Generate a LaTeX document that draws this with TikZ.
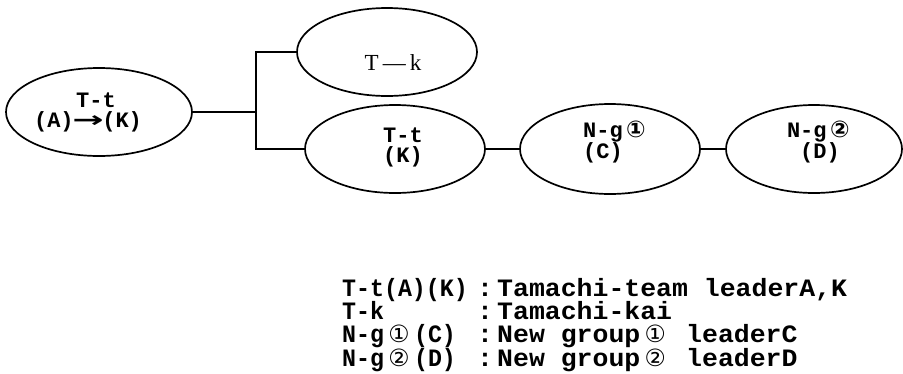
\documentclass[tikz,border=0pt]{standalone}
\usepackage{fontspec}
\usetikzlibrary{shapes.geometric}
\setmainfont{Liberation Serif}
\newfontfamily\monofont{Liberation Mono}[BoldFont={Liberation Mono Bold}]
\newfontfamily\narrowmono{Liberation Mono Bold}[FakeStretch=0.93]
\newfontfamily\widemono{Liberation Mono Bold}[FakeStretch=1.06]
\newfontfamily\symfont{DejaVu Sans}
% circled digits and the arrow take two cells of the monospaced grid
\newcommand\cnum[1]{\makebox[1.2em][c]{\scalebox{1.05}{\symfont #1}}}
\newcommand\lcnum[1]{\makebox[1.2em][c]{\smash{\scalebox{0.95}{\symfont #1}}}}
\newcommand\arr{\makebox[1.3em][c]{\scalebox{1.7}[1]{\symfont →}}}
\tikzset{
  bubble/.style={draw, ellipse, line width=1.7pt, inner sep=0pt},
  link/.style={line width=1.7pt},
  tag/.style={font=\monofont\bfseries\fontsize{22}{20}\selectfont, inner sep=0pt},
  small tag/.style={font=\monofont\bfseries\fontsize{22}{18}\selectfont, inner sep=0pt},
  serif tag/.style={font=\fontsize{23}{23}\selectfont, inner sep=0pt},
  legleft/.style={font=\narrowmono\fontsize{25}{23}\selectfont, inner sep=0pt, anchor=base west},
  legright/.style={font=\widemono\fontsize{25}{23}\selectfont, inner sep=0pt, anchor=base west},
}
\begin{document}
\begin{tikzpicture}[x=1pt,y=-1pt]
\useasboundingbox (0,0) rectangle (903,373);

% group bubbles
\node[bubble, minimum width=186pt, minimum height=88pt] (tta) at (99,112) {};
\node[bubble, minimum width=180pt, minimum height=88pt] (tk)  at (387,52) {};
\node[bubble, minimum width=180pt, minimum height=88pt] (ttk) at (395,149) {};
\node[bubble, minimum width=180pt, minimum height=90pt] (ng1) at (610,149) {};
\node[bubble, minimum width=176pt, minimum height=88pt] (ng2) at (814,149) {};

% bubble texts
\node[tag, align=center] (ttaT) at (88,112) {\hspace*{16pt}T-t\\(A)\arr(K)};
\node[serif tag] (tkT) at (393,63) {T\kern4pt—\kern4pt k};
\node[tag, align=center] (ttkT) at (403,147) {T-t\\(K)};
\node[small tag, align=left, anchor=west] (ng1T) at (583,142) {N-g\cnum{①}\\(C)};
\node[small tag, align=center] (ng2T) at (820,142) {N-g\cnum{②}\\(D)};

% connectors
\coordinate (fork) at (256,112);
\draw[link] (tta.east) -- (fork);
\draw[link] (tk.west) -| (fork) |- (ttk.west);
\draw[link] (ttk.east) -- (ng1.west);
\draw[link] (ng1.east) -- (ng2.west);

% legend
\node[legleft] (k1) at (342,296) {T-t(A)(K)};
\node[legleft] (k2) at (342,319) {T-k};
\node[legleft] (k3) at (342,342) {N-g\lcnum{①}(C)};
\node[legleft] (k4) at (342,366) {N-g\lcnum{②}(D)};
\foreach \r/\y in {1/296,2/319,3/342,4/366}
  \node[legright, anchor=base] (c\r) at (485,\y) {:};
\node[legright] (d1) at (497,296) {Tamachi-team leaderA,K};
\node[legright] (d2) at (497,319) {Tamachi-kai};
\node[legright] (d3) at (497,342) {New group\lcnum{①} leaderC};
\node[legright] (d4) at (497,366) {New group\lcnum{②} leaderD};
\end{tikzpicture}
\end{document}
